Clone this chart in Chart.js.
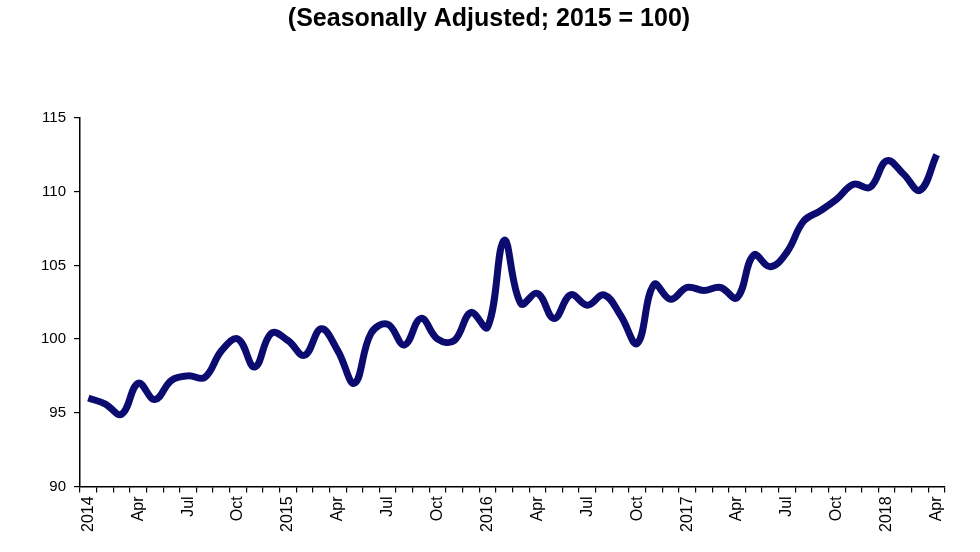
<!DOCTYPE html>
<html>
<head>
<meta charset="utf-8">
<script src="https://cdn.jsdelivr.net/npm/chart.js@4"></script>
<style>
  html, body { margin: 0; padding: 0; background: #fff; }
  #wrap { width: 980px; height: 552px; }
</style>
</head>
<body>
<div id="wrap"><canvas id="indiceChart"></canvas></div>
<script>
// meses ene 2014 - abr 2018
const years = ['2014', '2015', '2016', '2017', '2018'];
const monthNames = ['Jan', 'Feb', 'Mar', 'Apr', 'May', 'Jun', 'Jul', 'Aug', 'Sep', 'Oct', 'Nov', 'Dec'];
const shownMonths = ['Apr', 'Jul', 'Oct'];

const indexValues = [
  96.0, 95.6, 94.9, 97.0, 95.9, 97.2, 97.5, 97.4, 99.2, 100.0, 98.1, 100.4,
  99.9, 98.9, 100.7, 99.2, 97.0, 100.4, 101.0, 99.6, 101.4, 100.0, 99.9, 101.8,
  100.8, 106.7, 102.4, 103.1, 101.4, 103.0, 102.3, 103.0, 101.6, 99.7, 103.7, 102.7,
  103.5, 103.3, 103.5, 102.8, 105.7, 104.9, 105.9, 108.0, 108.7, 109.5, 110.5, 110.3,
  112.1, 111.2, 110.1, 112.5
];

const yTicks = [90, 95, 100, 105, 110, 115];

const labels = [];
years.forEach(function(y) {
  monthNames.forEach(function(m) {
    if (labels.length < indexValues.length) labels.push(m === 'Jan' ? y : m);
  });
});

const ctx = document.getElementById('indiceChart');
new Chart(ctx, {
  type: 'line',
  data: {
    labels: labels,
    datasets: [{
      data: indexValues,
      borderColor: '#0c0c70',
      borderWidth: 7,
      tension: 0.4,
      pointRadius: 0,
      fill: false
    }]
  },
  options: {
    responsive: true,
    maintainAspectRatio: false,
    animation: false,
    layout: { padding: { left: 33, right: 35, top: 0, bottom: 16 } },
    plugins: {
      legend: { display: false },
      tooltip: { enabled: false },
      title: {
        display: true,
        text: '(Seasonally Adjusted; 2015 = 100)',
        color: '#000',
        font: { family: 'Liberation Sans', size: 25, weight: 'bold' },
        padding: { top: 4, bottom: 84 }
      }
    },
    scales: {
      x: {
        offset: true,
        grid: {
          offset: true,
          drawOnChartArea: false,
          drawTicks: true,
          tickLength: 6,
          color: '#000',
          lineWidth: 1.2
        },
        border: { color: '#000', width: 1.5 },
        ticks: {
          autoSkip: false,
          minRotation: 90,
          maxRotation: 90,
          color: '#000',
          padding: 4,
          font: { family: 'Liberation Sans', size: 16 },
          callback: function(value, i) {
            const l = labels[i];
            return (years.includes(l) || shownMonths.includes(l)) ? l : '';
          }
        }
      },
      y: {
        min: 90,
        max: 115,
        afterBuildTicks: function(axis) {
          axis.ticks = yTicks.map(function(v) { return { value: v }; });
        },
        grid: {
          drawOnChartArea: false,
          drawTicks: true,
          tickLength: 6,
          color: '#000',
          lineWidth: 1.2
        },
        border: { color: '#000', width: 1.5 },
        ticks: {
          color: '#000',
          padding: 8,
          font: { family: 'Liberation Sans', size: 15 }
        }
      }
    }
  }
});
</script>
</body>
</html>
